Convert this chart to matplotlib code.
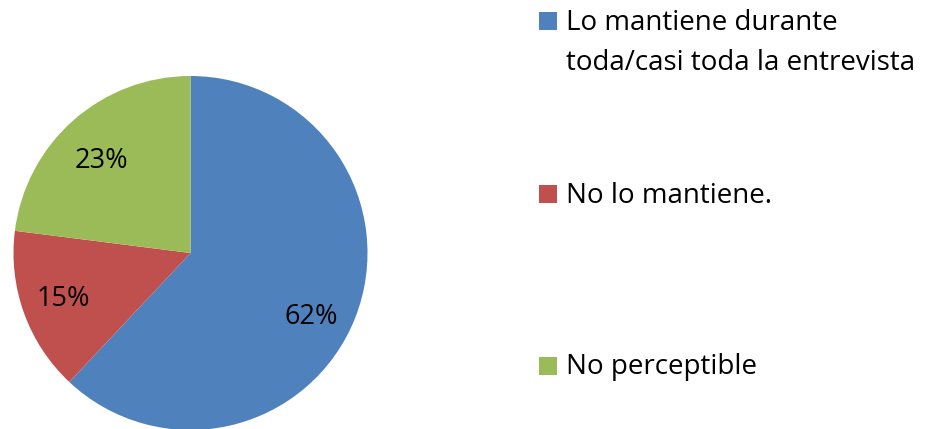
import matplotlib
matplotlib.use("Agg")
import matplotlib.pyplot as plt
from matplotlib.patches import Rectangle

plt.rcParams['font.family'] = ['Open Sans', 'DejaVu Sans']

labels = ["Lo mantiene durante\ntoda/casi toda la entrevista",
          "No lo mantiene.",
          "No perceptible"]
values = [62, 15, 23]
colors = ['#4F81BD', '#C0504D', '#9BBB59']

fig = plt.figure(figsize=(9.28, 4.29), dpi=100)
W, H = 928, 429

# pie centred at (190, 253) px with radius 177 px
cx, cy, r = 190.5, 253, 177
ax = fig.add_axes([(cx - r) / W, (H - cy - r) / H, 2 * r / W, 2 * r / H])
wedges, texts, autotexts = ax.pie(values, colors=colors, startangle=90, counterclock=False,
                                  autopct='%d%%', pctdistance=0.765, radius=1.0,
                                  textprops={'fontsize': 19.5, 'color': 'black'},
                                  wedgeprops={'linewidth': 0})
# the big slice label sits a little lower than the mid-angle
x, y = autotexts[0].get_position()
autotexts[0].set_position((x - 0.03, y - 0.08))
x, y = autotexts[2].get_position()
autotexts[2].set_position((x, y - 0.055))
ax.set_xlim(-1, 1)
ax.set_ylim(-1, 1)
ax.set_aspect('equal')
ax.axis('off')

# legend drawn by hand: square + text (baselines in px from top)
square_y = [21, 194, 366]
baseline_y = [30, 203, 374]
for lab, col, sy, by in zip(labels, colors, square_y, baseline_y):
    fig.patches.append(Rectangle((539 / W, (H - sy - 9) / H), 18 / W, 18 / H,
                                 transform=fig.transFigure, facecolor=col,
                                 edgecolor='none'))
    lines = lab.split('\n')
    for i, line in enumerate(lines):
        fig.text(566 / W, (H - by - 40 * i) / H, line, fontsize=20,
                 va='baseline', ha='left')

fig.savefig("out.png", dpi=100)
